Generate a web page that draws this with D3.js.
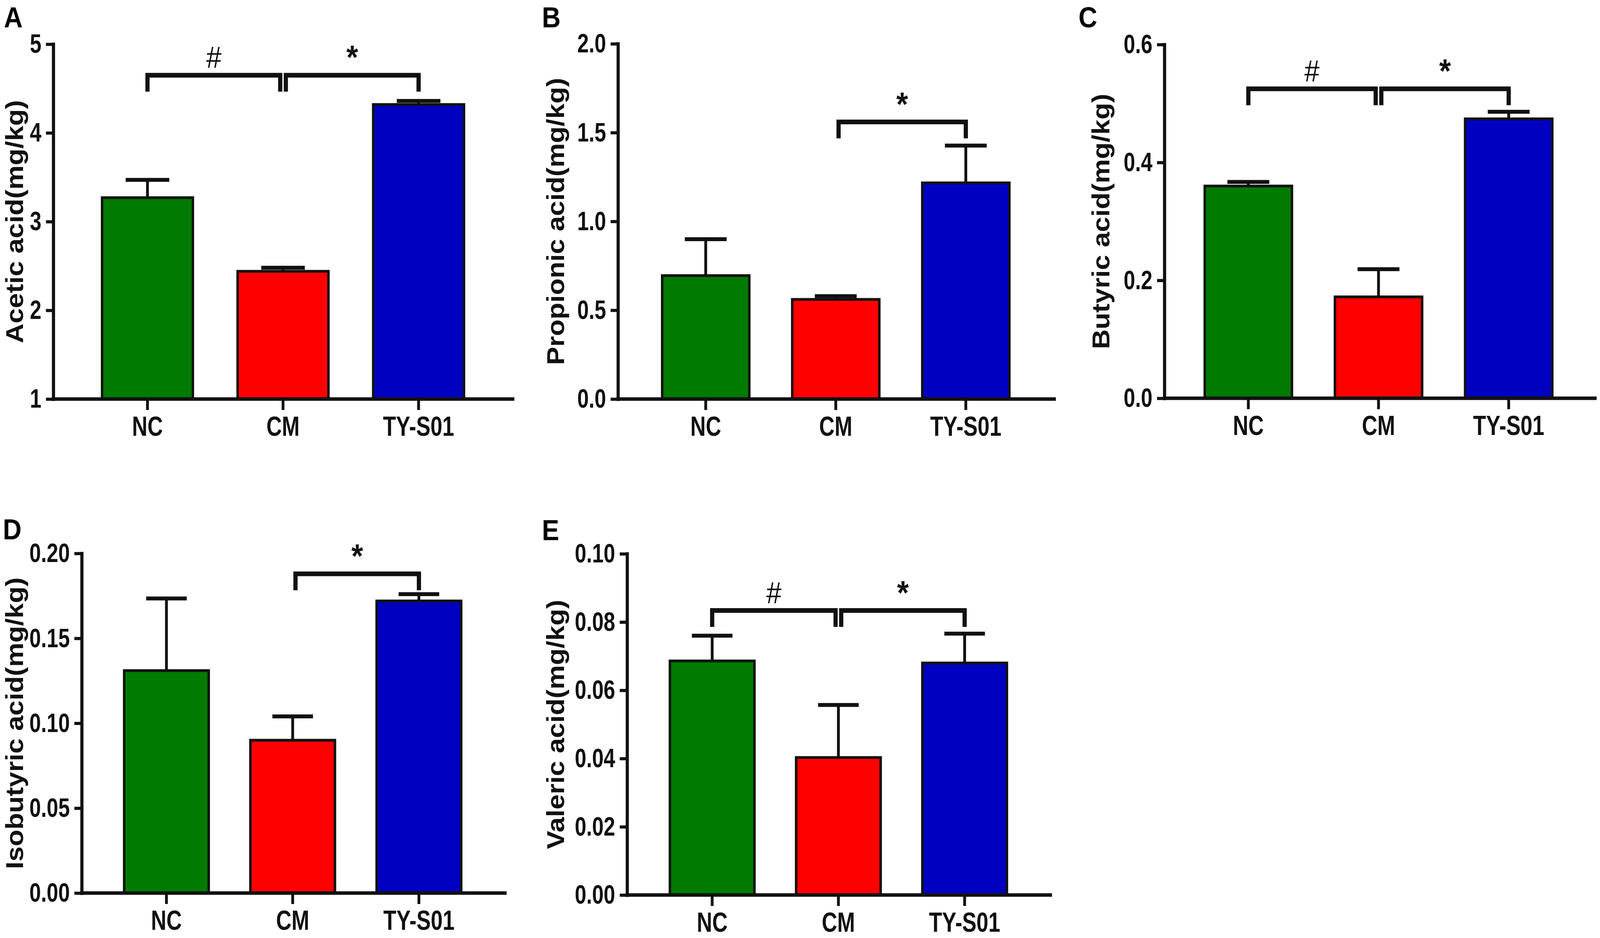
<!DOCTYPE html>
<html>
<head>
<meta charset="utf-8">
<script src="https://cdn.jsdelivr.net/npm/d3@7"></script>
<style>
  html, body { margin: 0; padding: 0; background: #fff; overflow: hidden; }
  svg { display: block; width: 100vw; height: 100vh; }
</style>
</head>
<body>
<svg id="fig" viewBox="0 0 4562 2400" preserveAspectRatio="none"></svg>
<script>
// groups + colours shared by all panels
const groups = ['NC', 'CM', 'TY-S01'];
const groupColors = ['#007a00', '#ff0000', '#0000c0'];

// A: acetic acid
const aceticMean = [3.27, 2.44, 4.32];
const aceticSem = [0.20, 0.04, 0.04];
const aceticTicks = [1, 2, 3, 4, 5];
const aceticSig = [
  { from: 'NC', to: 'CM', mark: '#', level: 4.65 },
  { from: 'CM', to: 'TY-S01', mark: '*', level: 4.65 }
];

// B: propionic acid
const propionicMean = [0.695, 0.561, 1.217];
const propionicSem = [0.205, 0.018, 0.21];
const propionicTicks = [0, 0.5, 1.0, 1.5, 2.0];
const propionicSig = [
  { from: 'CM', to: 'TY-S01', mark: '*', level: 1.56 }
];

// C: butyric acid
const butyricMean = [0.360, 0.172, 0.474];
const butyricSem = [0.007, 0.047, 0.012];
const butyricTicks = [0, 0.2, 0.4, 0.6];
const butyricSig = [
  { from: 'NC', to: 'CM', mark: '#', level: 0.525 },
  { from: 'CM', to: 'TY-S01', mark: '*', level: 0.525 }
];

// D: isobutyric acid
const isobutyricMean = [0.131, 0.090, 0.172];
const isobutyricSem = [0.0425, 0.014, 0.004];
const isobutyricTicks = [0, 0.05, 0.10, 0.15, 0.20];
const isobutyricSig = [
  { from: 'CM', to: 'TY-S01', mark: '*', level: 0.188 }
];

// E: valeric acid
const valericMean = [0.0686, 0.0403, 0.068];
const valericSem = [0.0074, 0.0154, 0.0086];
const valericTicks = [0, 0.02, 0.04, 0.06, 0.08, 0.10];
const valericSig = [
  { from: 'NC', to: 'CM', mark: '#', level: 0.0834 },
  { from: 'CM', to: 'TY-S01', mark: '*', level: 0.0834 }
];

// layout: axis line x, x-axis end, first/last bar edges, plot top/bottom
const panels = [
  { letter: 'A', title: 'Acetic acid(mg/kg)', mean: aceticMean, sem: aceticSem,
    ticks: aceticTicks, fmt: d3.format('d'), sig: aceticSig, domain: [1, 5],
    box: { left: 152, right: 1462, b0: 291, b1: 1323, top: 113, bottom: 1021,
           titleX: 66, lx: 11, ly: 70 } },
  { letter: 'B', title: 'Propionic acid(mg/kg)', mean: propionicMean, sem: propionicSem,
    ticks: propionicTicks, fmt: d3.format('.1f'), sig: propionicSig, domain: [0, 2],
    box: { left: 1762, right: 3006, b0: 1888, b1: 2878, top: 112, bottom: 1021,
           titleX: 1608, lx: 1545, ly: 70 } },
  { letter: 'C', title: 'Butyric acid(mg/kg)', mean: butyricMean, sem: butyricSem,
    ticks: butyricTicks, fmt: d3.format('.1f'), sig: butyricSig, domain: [0, 0.6],
    box: { left: 3320, right: 4548, b0: 3435, b1: 4426, top: 114, bottom: 1019,
           titleX: 3163, lx: 3075, ly: 70 } },
  { letter: 'D', title: 'Isobutyric acid(mg/kg)', mean: isobutyricMean, sem: isobutyricSem,
    ticks: isobutyricTicks, fmt: d3.format('.2f'), sig: isobutyricSig, domain: [0, 0.2],
    box: { left: 233, right: 1440, b0: 354, b1: 1315, top: 1416, bottom: 2285,
           titleX: 66, lx: 8, ly: 1380 } },
  { letter: 'E', title: 'Valeric acid(mg/kg)', mean: valericMean, sem: valericSem,
    ticks: valericTicks, fmt: d3.format('.2f'), sig: valericSig, domain: [0, 0.1],
    box: { left: 1788, right: 2995, b0: 1910, b1: 2871, top: 1417, bottom: 2290,
           titleX: 1608, lx: 1545, ly: 1382 } }
];

// no narrow face installed: squeeze the Arial-metric bold instead
const FONT = "'Liberation Sans', Arial, sans-serif";
const squeeze = 0.87;
const ink = '#111';

const svg = d3.select('#fig');

const drawPanel = function (p) {
  const b = p.box;
  const g = svg.append('g').attr('class', 'panel');

  const x = d3.scaleBand()
    .domain(groups)
    .range([b.b0, b.b1])
    .paddingInner(0.33)
    .paddingOuter(0);

  const y = d3.scaleLinear()
    .domain(p.domain)
    .range([b.bottom, b.top]);

  const rows = groups.map((k, i) => ({ k, i, m: p.mean[i], s: p.sem[i] }));
  const mid = k => x(k) + x.bandwidth() / 2;

  // error bars (upper only)
  const capW = x.bandwidth() * 0.48;
  const err = g.append('g').attr('class', 'err');
  err.selectAll('line.stem').data(rows).join('line')
    .attr('class', 'stem')
    .attr('x1', d => mid(d.k))
    .attr('x2', d => mid(d.k))
    .attr('y1', d => y(d.m))
    .attr('y2', d => y(d.m + d.s))
    .attr('stroke', ink).attr('stroke-width', 8);
  err.selectAll('line.cap').data(rows).join('line')
    .attr('class', 'cap')
    .attr('x1', d => mid(d.k) - capW / 2)
    .attr('x2', d => mid(d.k) + capW / 2)
    .attr('y1', d => y(d.m + d.s))
    .attr('y2', d => y(d.m + d.s))
    .attr('stroke', ink).attr('stroke-width', 10);

  // bars
  g.append('g').attr('class', 'bars')
    .selectAll('rect').data(rows).join('rect')
      .attr('x', d => x(d.k))
      .attr('width', x.bandwidth())
      .attr('y', d => y(d.m))
      .attr('height', d => y(p.domain[0]) - y(d.m))
      .attr('fill', d => groupColors[d.i])
      .attr('stroke', ink)
      .attr('stroke-width', 7);

  // axes
  const yTick = 21, yPad = 13;
  const yAxis = d3.axisLeft(y)
    .tickValues(p.ticks)
    .tickFormat(p.fmt)
    .tickSize(yTick)
    .tickSizeOuter(0)
    .tickPadding(yPad);
  const ya = g.append('g')
    .attr('transform', `translate(${b.left},0)`)
    .call(yAxis);

  const xAxis = d3.axisBottom(x)
    .tickSize(28)
    .tickSizeOuter(0)
    .tickPadding(16);
  const xa = g.append('g')
    .attr('transform', `translate(0,${b.bottom})`)
    .call(xAxis);
  // the baseline runs from the y axis to past the last bar
  xa.select('.domain').attr('d', `M${b.left},0H${b.right}`);

  [ya, xa].forEach(a => {
    a.select('.domain').attr('stroke', ink).attr('stroke-width', 9)
      .attr('stroke-linecap', 'square');
    a.selectAll('.tick line').attr('stroke', ink).attr('stroke-width', 8);
    a.selectAll('text')
      .attr('fill', ink)
      .attr('transform', `scale(${squeeze},1)`)
      .style('font-family', FONT)
      .style('font-weight', 'bold');
  });
  ya.selectAll('text')
    .attr('x', -(yTick + yPad) / squeeze)
    .style('font-size', '68px');
  xa.selectAll('text').style('font-size', '70px');

  // axis title
  g.append('text')
    .attr('transform', `translate(${b.titleX},${(b.top + b.bottom) / 2}) rotate(-90)`)
    .attr('text-anchor', 'middle')
    .style('font-family', FONT)
    .style('font-weight', 'bold')
    .style('font-size', '70px')
    .attr('fill', ink)
    .text(p.title);

  // panel letter
  g.append('text')
    .attr('x', b.lx)
    .attr('y', b.ly)
    .style('font-family', FONT)
    .style('font-weight', 'bold')
    .style('font-size', '74px')
    .attr('fill', '#000')
    .text(p.letter);

  // significance brackets
  const inset = k => (k === 'CM' ? 8 : 0);
  const drop = 42;
  const sig = g.append('g').attr('class', 'sig');
  sig.selectAll('path').data(p.sig).join('path')
    .attr('d', d => {
      const x1 = mid(d.from) + inset(d.from);
      const x2 = mid(d.to) - inset(d.to);
      const yy = y(d.level);
      return `M${x1},${yy + drop}V${yy}H${x2}V${yy + drop}`;
    })
    .attr('fill', 'none')
    .attr('stroke', ink)
    .attr('stroke-width', 12)
    .attr('stroke-linejoin', 'miter');
  sig.selectAll('text').data(p.sig).join('text')
    .attr('x', d => (mid(d.from) + inset(d.from) + mid(d.to) - inset(d.to)) / 2)
    .attr('y', d => y(d.level) - (d.mark === '*' ? 16 : 18))
    .attr('text-anchor', 'middle')
    .style('font-family', FONT)
    .style('font-weight', d => (d.mark === '*' ? 'bold' : 'normal'))
    .style('font-size', d => (d.mark === '*' ? '86px' : '78px'))
    .attr('fill', ink)
    .text(d => d.mark);
};

panels.forEach(drawPanel);
</script>
</body>
</html>
